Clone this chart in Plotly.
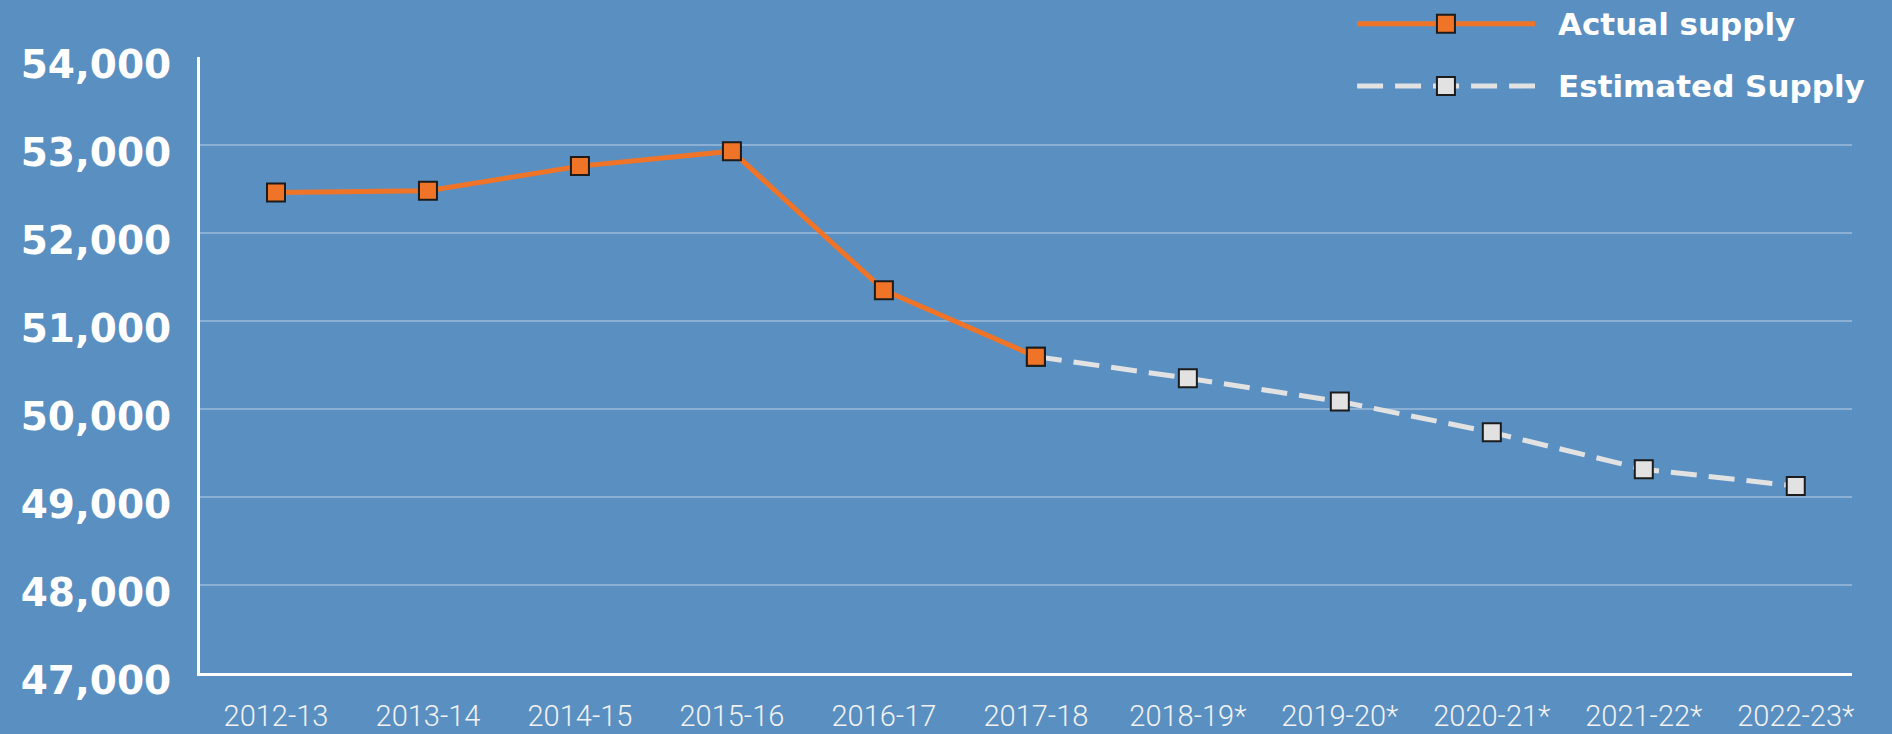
import plotly.graph_objects as go

# categories on the x axis (asterisk = estimate)
seasons = ["2012-13", "2013-14", "2014-15", "2015-16", "2016-17", "2017-18",
           "2018-19*", "2019-20*", "2020-21*", "2021-22*", "2022-23*"]

# actual supply
actual_seasons = seasons[:6]
actual_supply = [52460, 52480, 52760, 52930, 51350, 50595]

# estimated supply starts from the last actual year
estimated_seasons = seasons[5:]
estimated_supply = [50595, 50350, 50085, 49735, 49315, 49125]

y_ticks = [47000, 48000, 49000, 50000, 51000, 52000, 53000, 54000]

ORANGE = "#f07428"
LIGHT = "#e2e2e2"
EDGE = "#1c1c1c"
BG = "#5a8fc1"

fig = go.Figure()

fig.add_trace(go.Scatter(
    x=estimated_seasons, y=estimated_supply, mode="lines+markers",
    name="Estimated Supply",
    line=dict(color=LIGHT, width=5, dash="26px,12px"),
    marker=dict(symbol="square", size=18, color=LIGHT, line=dict(color=EDGE, width=2)),
    showlegend=False,
))
fig.add_trace(go.Scatter(
    x=actual_seasons, y=actual_supply, mode="lines+markers",
    name="Actual supply",
    line=dict(color=ORANGE, width=5),
    marker=dict(symbol="square", size=18, color=ORANGE, line=dict(color=EDGE, width=2)),
    showlegend=False,
))

# hand made legend, so the sample lines can be long like the original
legend_rows = [("Actual supply", ORANGE, "solid", 1.054),
               ("Estimated Supply", LIGHT, "26px,12px", 0.953)]
for label, colour, dash, ypos in legend_rows:
    fig.add_shape(type="line", xref="paper", yref="paper",
                  x0=0.7004, x1=0.8081, y0=ypos, y1=ypos,
                  line=dict(color=colour, width=5, dash=dash))
    fig.add_shape(type="rect", xref="paper", yref="paper",
                  xsizemode="pixel", ysizemode="pixel",
                  xanchor=0.7542, yanchor=ypos,
                  x0=-9, x1=9, y0=-9, y1=9,
                  fillcolor=colour, line=dict(color=EDGE, width=2))
    fig.add_annotation(text=label, xref="paper", yref="paper",
                       x=0.8208, y=ypos, xanchor="left", yanchor="middle",
                       showarrow=False,
                       font=dict(family="DejaVu Sans", size=31, color="white", weight="bold"))

fig.update_xaxes(
    type="category", categoryorder="array", categoryarray=seasons,
    range=[-0.5, 10.37], automargin=False,
    showgrid=False, zeroline=False,
    showline=True, linecolor="white", linewidth=3,
    ticks="outside", ticklen=15, tickcolor="rgba(0,0,0,0)",
    tickfont=dict(family="Roboto", size=29, color="#f2f2f2", weight=300),
)
fig.update_yaxes(
    range=[47000, 54000], tickvals=y_ticks, tickformat=",d", automargin=False,
    showgrid=True, gridcolor="rgba(255,255,255,0.3)", gridwidth=2,
    zeroline=False,
    showline=True, linecolor="white", linewidth=3,
    ticks="outside", ticklen=18, tickcolor="rgba(0,0,0,0)",
    ticklabelshift=7,
    tickfont=dict(family="DejaVu Sans", size=39, color="white", weight="bold"),
)

fig.update_layout(
    width=1892, height=734,
    margin=dict(l=200, r=40, t=57, b=61),
    paper_bgcolor=BG, plot_bgcolor=BG,
    showlegend=False,
)

# drop the browser's default body margin so the chart sits at 0,0
fig.write_html("out.html", config={"displayModeBar": False},
               post_script="document.body.style.margin='0';")
